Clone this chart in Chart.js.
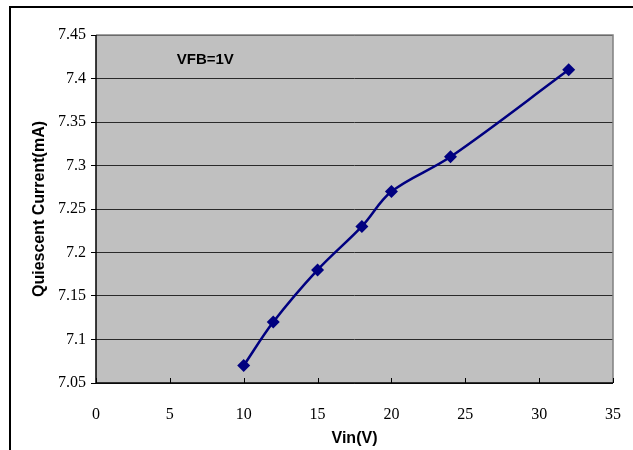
<!DOCTYPE html>
<html>
<head>
<meta charset="utf-8">
<script src="https://cdn.jsdelivr.net/npm/chart.js@4"></script>
<style>
  body { margin: 0; background: #fff; }
  .frame { position: absolute; left: 9px; top: 6px; border-top: 2px solid #000; border-left: 2px solid #000; }
  canvas { display: block; }
</style>
</head>
<body>
<div class="frame"><canvas id="grafico" width="624" height="444"></canvas></div>
<script>
const vin = [10, 12, 15, 18, 20, 24, 32];
const corriente = [7.07, 7.12, 7.18, 7.23, 7.27, 7.31, 7.41];
const xTicks = [0, 5, 10, 15, 20, 25, 30, 35];
const yTicks = [7.05, 7.1, 7.15, 7.2, 7.25, 7.3, 7.35, 7.4, 7.45];
const nota = "VFB=1V";
const notaPos = { x: 7.4, y: 7.421 };

const canvas = document.querySelector('#grafico');

// marco gris del area + ticks hacia adentro en el eje x + texto VFB
const extras = {
  id: 'extras',
  beforeDraw(chart) {
    const { ctx, chartArea: a } = chart;
    ctx.save();
    ctx.fillStyle = '#c0c0c0';
    ctx.fillRect(a.left, a.top, a.right - a.left, a.bottom - a.top);
    ctx.restore();
  },
  afterDatasetsDraw(chart) {
    const { ctx, chartArea: a, scales } = chart;
    ctx.save();
    ctx.strokeStyle = '#808080';
    ctx.lineWidth = 1.5;
    ctx.beginPath();
    ctx.moveTo(a.left, a.top);
    ctx.lineTo(a.right, a.top);
    ctx.lineTo(a.right, a.bottom);
    ctx.stroke();
    ctx.strokeStyle = '#000';
    ctx.lineWidth = 1.5;
    ctx.beginPath();
    ctx.moveTo(a.left, a.top);
    ctx.lineTo(a.left, a.bottom);
    ctx.lineTo(a.right, a.bottom);
    ctx.stroke();
    ctx.lineWidth = 1;
    xTicks.forEach(v => {
      const px = Math.round(scales.x.getPixelForValue(v)) + 0.5;
      ctx.beginPath();
      ctx.moveTo(px, a.bottom);
      ctx.lineTo(px, a.bottom - 5);
      ctx.stroke();
    });
    ctx.fillStyle = '#000';
    ctx.font = 'bold 15px "Liberation Sans", Arial, sans-serif';
    ctx.textAlign = 'center';
    ctx.textBaseline = 'middle';
    ctx.fillText(nota, scales.x.getPixelForValue(notaPos.x), scales.y.getPixelForValue(notaPos.y));
    ctx.restore();
  }
};

const serif = { family: '"Liberation Serif", "Times New Roman", serif', size: 16 };
const bold = { family: '"Liberation Sans", Arial, sans-serif', size: 16, weight: 'bold' };

new Chart(canvas, {
  type: 'scatter',
  data: {
    datasets: [{
      data: vin.map((v, i) => ({ x: v, y: corriente[i] })),
      showLine: true,
      borderColor: '#000080',
      backgroundColor: '#000080',
      borderWidth: 2.5,
      tension: 0.35,
      pointStyle: 'rectRot',
      pointRadius: 6.5,
      pointHoverRadius: 6.5,
      pointBorderWidth: 0
    }]
  },
  options: {
    responsive: false,
    animation: false,
    devicePixelRatio: 1,
    layout: { padding: { left: 0, top: 27, right: 18, bottom: 0 } },
    plugins: { legend: { display: false }, tooltip: { enabled: false } },
    scales: {
      x: {
        type: 'linear', min: 0, max: 35,
        afterBuildTicks: s => { s.ticks = xTicks.map(v => ({ value: v })); },
        afterFit: s => { s.height = 69; },
        grid: { display: false },
        border: { display: false },
        ticks: { color: '#000', font: serif, padding: 14 },
        title: { display: true, text: 'Vin(V)', color: '#000', font: bold, padding: { top: 4 } }
      },
      y: {
        type: 'linear', min: 7.05, max: 7.45,
        afterBuildTicks: s => { s.ticks = yTicks.map(v => ({ value: v })); },
        afterFit: s => { s.width = 85; },
        grid: { color: '#2a2a2a', lineWidth: 1, tickLength: 5, drawTicks: true, tickColor: '#000' },
        border: { display: false },
        ticks: { color: '#000', font: serif, padding: 5, callback: v => String(parseFloat(v.toFixed(2))) },
        title: { display: true, text: 'Quiescent Current(mA)', color: '#000', font: bold, padding: { bottom: 0, top: 19 } }
      }
    }
  },
  plugins: [extras]
});
</script>
</body>
</html>
